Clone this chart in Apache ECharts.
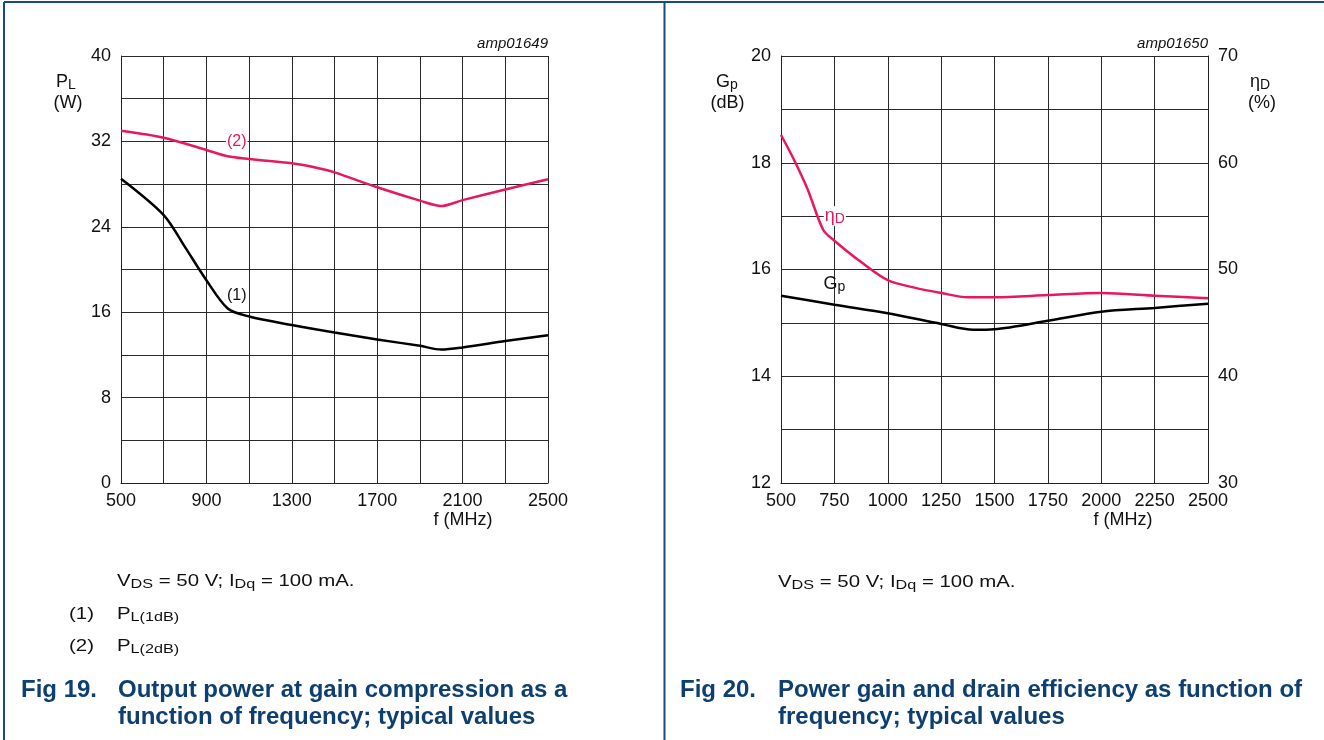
<!DOCTYPE html>
<html><head><meta charset="utf-8">
<script src="https://cdn.jsdelivr.net/npm/echarts@6/dist/echarts.min.js"></script>
<style>html,body{margin:0;padding:0;background:#fff}#c{width:1324px;height:740px}</style>
</head><body><div id="c"></div>
<script>
// ---------- Fig 19 data ----------
const fig19FreqPL1 = [500, 700, 800, 900, 1000, 1100, 1300, 1500, 1700, 1900, 2000, 2100, 2300, 2500];
const fig19PL1dB   = [28.5, 25.1, 22.1, 19.0, 16.35, 15.6, 14.8, 14.1, 13.45, 12.85, 12.5, 12.7, 13.3, 13.85];
const fig19FreqPL2 = [500, 700, 900, 1000, 1100, 1300, 1400, 1500, 1700, 1900, 2000, 2100, 2300, 2500];
const fig19PL2dB   = [33.0, 32.35, 31.2, 30.6, 30.35, 29.95, 29.6, 29.1, 27.7, 26.45, 25.95, 26.5, 27.5, 28.45];
const fig19XTicks  = [500, 700, 900, 1100, 1300, 1500, 1700, 1900, 2100, 2300, 2500];
const fig19XLabels = [500, 900, 1300, 1700, 2100, 2500];
const fig19YTicks  = [0, 4, 8, 12, 16, 20, 24, 28, 32, 36, 40];
const fig19YLabels = [0, 8, 16, 24, 32, 40];

// ---------- Fig 20 data ----------
const fig20FreqEta = [500, 558, 625, 698, 750, 875, 1000, 1125, 1250, 1375, 1500, 1750, 2000, 2250, 2500];
const fig20EtaD    = [62.6, 60.4, 57.5, 53.7, 52.7, 50.7, 49.0, 48.3, 47.8, 47.4, 47.4, 47.6, 47.8, 47.55, 47.3];
const fig20FreqGp  = [500, 750, 1000, 1250, 1400, 1500, 1750, 2000, 2250, 2500];
const fig20Gp      = [15.51, 15.34, 15.18, 14.98, 14.87, 14.88, 15.04, 15.21, 15.28, 15.36];
const fig20XTicks  = [500, 750, 1000, 1250, 1500, 1750, 2000, 2250, 2500];
const fig20XLabels = [500, 750, 1000, 1250, 1500, 1750, 2000, 2250, 2500];
const fig20GTicks  = [12, 13, 14, 15, 16, 17, 18, 19, 20];
const fig20GLabels = [12, 14, 16, 18, 20];
const fig20ELabels = [30, 40, 50, 60, 70];

const RED = '#e8185c';
const BLUE = '#0d3f73';
const FONT = '"Liberation Sans", Arial, sans-serif';
const GRIDC = '#2a2a2a';

function zip(a, b) { return a.map((v, i) => [v, b[i]]); }
const plain = v => String(v);

function xAxisDef(grid, min, max, ticks, labels) {
  return {
    type: 'value', gridIndex: grid, min: min, max: max,
    axisLine: { show: true, onZero: false, lineStyle: { color: '#222', width: 1 } },
    axisTick: { show: false, customValues: ticks },
    axisLabel: { customValues: labels, formatter: plain, color: '#111', fontFamily: FONT, fontSize: 18, margin: 9 },
    splitLine: { show: true, lineStyle: { color: GRIDC, width: 1 } }
  };
}
function yAxisDef(grid, min, max, ticks, labels, pos, split) {
  const o = {
    type: 'value', gridIndex: grid, min: min, max: max, position: pos,
    axisLine: { show: true, lineStyle: { color: '#222', width: 1 } },
    axisTick: { show: false },
    axisLabel: { customValues: labels, formatter: plain, color: '#111', fontFamily: FONT, fontSize: 18, margin: 10 },
    splitLine: { show: split, lineStyle: { color: GRIDC, width: 1 } }
  };
  if (ticks) o.axisTick.customValues = ticks;
  return o;
}

const subRich = (size, sub, color) => ({
  m: { fontSize: size, lineHeight: 20, fontFamily: FONT, color: color },
  s: { fontSize: sub, lineHeight: 8, verticalAlign: 'bottom', fontFamily: FONT, color: color }
});

function txt(x, y, text, opt) {
  opt = opt || {};
  return {
    type: 'text', x: x, y: y, scaleX: opt.scaleX || 1, silent: true,
    style: {
      text: text, x: 0, y: 0,
      font: (opt.weight || 'normal') + ' ' + (opt.style || 'normal') + ' ' + (opt.size || 18) + 'px ' + FONT,
      fontStyle: opt.style || 'normal', fontWeight: opt.weight || 'normal',
      fontSize: opt.size || 18, fontFamily: FONT,
      fill: opt.color || '#111', align: opt.align || 'left', verticalAlign: 'middle',
      rich: opt.rich
    }
  };
}

const capRich = subRich(17, 13.5, '#111');
const CS = 1.2;

function lineSeries(xi, yi, xs, ys, color, mark) {
  return {
    type: 'line', xAxisIndex: xi, yAxisIndex: yi, data: zip(xs, ys),
    smooth: 0.3, showSymbol: false, lineStyle: { color: color, width: 2.5 }, itemStyle: { color: color },
    markPoint: {
      symbol: 'rect', symbolSize: 1, itemStyle: { color: 'rgba(0,0,0,0)' },
      data: [mark]
    }
  };
}

const option = {
  animation: false,
  backgroundColor: '#fff',
  grid: [
    { left: 121, top: 56, width: 427, height: 427 },
    { left: 781, top: 56, width: 427, height: 427 }
  ],
  xAxis: [
    xAxisDef(0, 500, 2500, fig19XTicks, fig19XLabels),
    xAxisDef(1, 500, 2500, fig20XTicks, fig20XLabels)
  ],
  yAxis: [
    yAxisDef(0, 0, 40, fig19YTicks, fig19YLabels, 'left', true),
    yAxisDef(1, 12, 20, fig20GTicks, fig20GLabels, 'left', true),
    yAxisDef(1, 30, 70, null, fig20ELabels, 'right', false)
  ],
  series: [
    lineSeries(0, 0, fig19FreqPL1, fig19PL1dB, '#000',
      { coord: [1042, 17.6], label: { show: true, position: 'inside', formatter: '(1)', color: '#111', fontFamily: FONT, fontSize: 16, backgroundColor: '#fff', padding: [0, 1] } }),
    lineSeries(0, 0, fig19FreqPL2, fig19PL2dB, RED,
      { coord: [1042, 32], label: { show: true, position: 'inside', formatter: '(2)', color: RED, fontFamily: FONT, fontSize: 16, backgroundColor: '#fff', padding: [0, 1] } }),
    lineSeries(1, 1, fig20FreqGp, fig20Gp, '#000',
      { coord: [750, 15.72], label: { show: true, position: 'inside', formatter: '{m|G}{s|p}', rich: subRich(18, 14, '#111') } }),
    lineSeries(1, 2, fig20FreqEta, fig20EtaD, RED,
      { coord: [752, 55], label: { show: true, position: 'inside', formatter: '{m|η}{s|D}', backgroundColor: '#fff', padding: [0, 1], rich: subRich(18, 14, RED) } })
  ],
  graphic: [
    // frame
    { type: 'line', silent: true, shape: { x1: 4, y1: 2, x2: 1324, y2: 2 }, style: { stroke: '#1b4a7c', lineWidth: 2 } },
    { type: 'line', silent: true, shape: { x1: 4, y1: 2, x2: 4, y2: 740 }, style: { stroke: '#1b4a7c', lineWidth: 2 } },
    { type: 'line', silent: true, shape: { x1: 664.5, y1: 2, x2: 664.5, y2: 740 }, style: { stroke: '#1b4a7c', lineWidth: 2 } },
    // chart codes
    txt(548, 44, 'amp01649', { size: 15, style: 'italic', align: 'right' }),
    txt(1208, 44, 'amp01650', { size: 15, style: 'italic', align: 'right' }),
    // axis names
    txt(56, 82, '{m|P}{s|L}', { rich: subRich(18, 14, '#111') }),
    txt(68, 103, '(W)', { align: 'center' }),
    txt(716, 82, '{m|G}{s|p}', { rich: subRich(18, 14, '#111') }),
    txt(727.5, 103, '(dB)', { align: 'center' }),
    txt(1250, 82, '{m|η}{s|D}', { rich: subRich(18, 14, '#111') }),
    txt(1262, 103, '(%)', { align: 'center' }),
    txt(463, 520, 'f (MHz)', { align: 'center' }),
    txt(1123, 520, 'f (MHz)', { align: 'center' }),
    // left notes
    txt(117, 581, '{m|V}{s|DS}{m| = 50 V; I}{s|Dq}{m| = 100 mA.}', { rich: capRich, scaleX: CS }),
    txt(94, 614, '{m|(1)}', { rich: capRich, scaleX: CS, align: 'right' }),
    txt(117, 614, '{m|P}{s|L(1dB)}', { rich: capRich, scaleX: CS }),
    txt(94, 646, '{m|(2)}', { rich: capRich, scaleX: CS, align: 'right' }),
    txt(117, 646, '{m|P}{s|L(2dB)}', { rich: capRich, scaleX: CS }),
    txt(21, 690, 'Fig 19.', { size: 24, weight: 'bold', color: BLUE }),
    txt(118, 690, 'Output power at gain compression as a', { size: 24, weight: 'bold', color: BLUE }),
    txt(118, 717, 'function of frequency; typical values', { size: 24, weight: 'bold', color: BLUE }),
    // right notes
    txt(778, 582, '{m|V}{s|DS}{m| = 50 V; I}{s|Dq}{m| = 100 mA.}', { rich: capRich, scaleX: CS }),
    txt(680, 690, 'Fig 20.', { size: 24, weight: 'bold', color: BLUE }),
    txt(778, 690, 'Power gain and drain efficiency as function of', { size: 24, weight: 'bold', color: BLUE }),
    txt(778, 717, 'frequency; typical values', { size: 24, weight: 'bold', color: BLUE })
  ]
};

const chart = echarts.init(document.getElementById('c'), null, { renderer: 'canvas' });
chart.setOption(option);
</script>
</body></html>
